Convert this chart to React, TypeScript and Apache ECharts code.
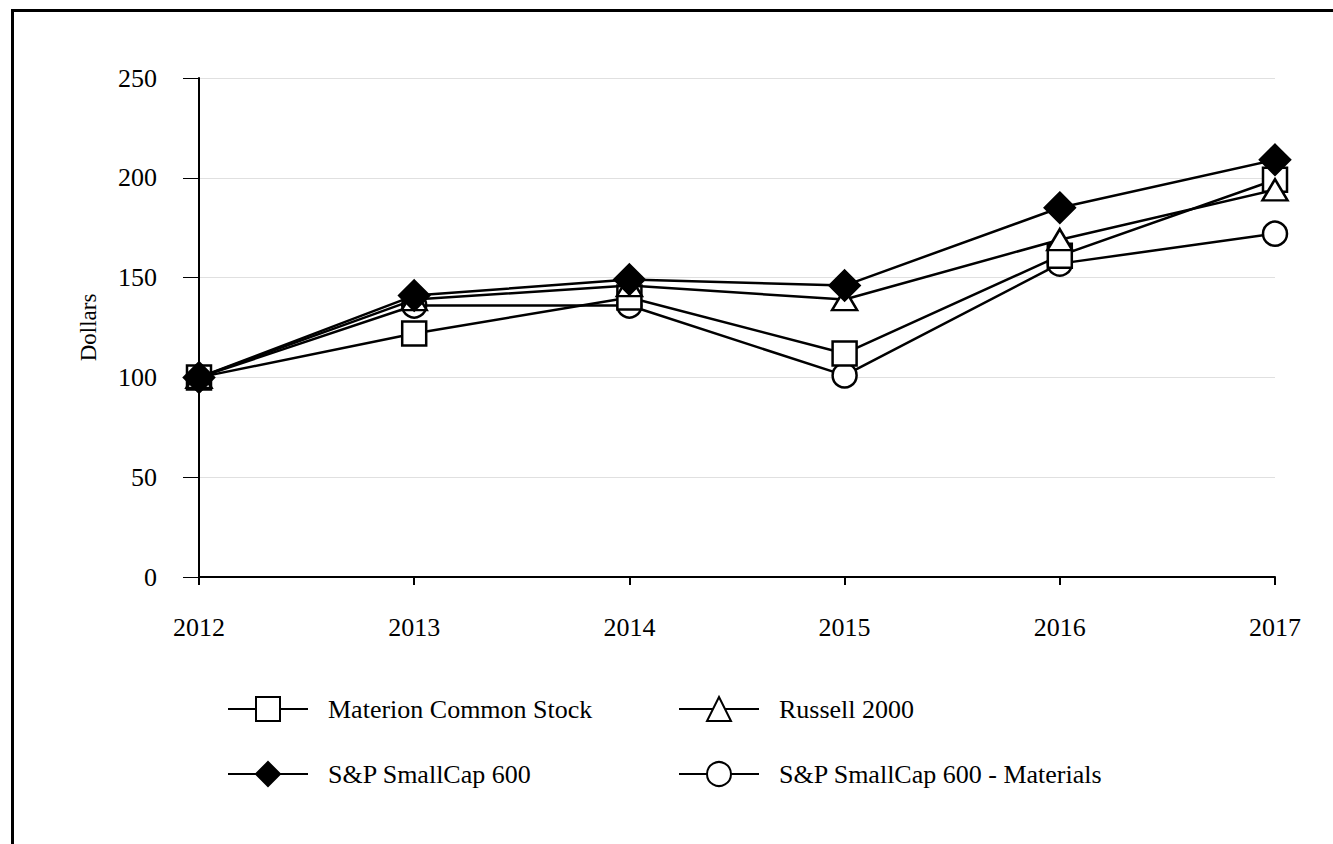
import React, { useEffect, useRef } from "react";
import * as echarts from "echarts";

const years = ["2012", "2013", "2014", "2015", "2016", "2017"];
const materion = [100, 122, 140, 112, 161, 199];
const russell = [100, 139, 146, 139, 169, 194];
const sp600 = [100, 141, 149, 146, 185, 209];
const spMaterials = [100, 136, 136, 101, 157, 172];
const yTicks = [0, 50, 100, 150, 200, 250];

const FONT = "'Liberation Serif', 'DejaVu Serif', serif";

function mkSeries(name: string, data: number[], symbol: string, size: number | number[], fill: string, z: number) {
  return {
    name,
    type: "line",
    data,
    symbol,
    symbolSize: size,
    showAllSymbol: true,
    z,
    lineStyle: { color: "#000", width: 2.5 },
    itemStyle: { color: fill, borderColor: "#000", borderWidth: 2.5 },
    emphasis: { disabled: true },
  };
}

export default function App() {
  const ref = useRef<HTMLDivElement>(null);
  useEffect(() => {
    const chart = echarts.init(ref.current!, null, { renderer: "svg" });
    const labelStyle = { color: "#000", fontFamily: FONT, fontSize: 26 };
    const legendCommon = {
      orient: "vertical",
      top: 691,
      itemWidth: 80,
      itemHeight: 30,
      itemGap: 39,
      textStyle: { ...labelStyle, padding: [0, 0, 0, 15] },
    };
    chart.setOption({
      animation: false,
      backgroundColor: "#fff",
      textStyle: { fontFamily: FONT, color: "#000" },
      grid: { left: 199, right: 58, top: 78, bottom: 267 },
      xAxis: {
        type: "category",
        data: years,
        boundaryGap: false,
        axisLine: { lineStyle: { color: "#000", width: 2 } },
        axisTick: { show: true, length: 8, lineStyle: { color: "#000", width: 2 } },
        axisLabel: { ...labelStyle, margin: 37 },
        splitLine: { show: false },
      },
      yAxis: {
        type: "value",
        min: yTicks[0],
        max: yTicks[yTicks.length - 1],
        interval: 50,
        name: "Dollars",
        nameLocation: "middle",
        nameGap: 99,
        nameTextStyle: { color: "#000", fontFamily: FONT, fontSize: 23 },
        axisLine: { show: true, lineStyle: { color: "#000", width: 2 } },
        axisTick: { show: true, length: 16, lineStyle: { color: "#000", width: 1 } },
        axisLabel: { ...labelStyle, margin: 42 },
        splitLine: { show: true, lineStyle: { color: "#e0e0e0", width: 1 } },
      },
      legend: [
        { ...legendCommon, data: ["Materion Common Stock", "S&P SmallCap 600"], left: 222 },
        { ...legendCommon, data: ["Russell 2000", "S&P SmallCap 600 - Materials"], left: 673 },
      ],
      graphic: [
        {
          type: "rect",
          shape: { x: 12.5, y: 10.5, width: 1500, height: 1000 },
          style: { fill: "none", stroke: "#000", lineWidth: 3 },
          silent: true,
        },
      ],
      series: [
        mkSeries("Materion Common Stock", materion, "rect", 24, "#fff", 3),
        mkSeries("Russell 2000", russell, "triangle", [25, 21], "#fff", 4),
        mkSeries("S&P SmallCap 600", sp600, "diamond", [30, 30], "#000", 5),
        mkSeries("S&P SmallCap 600 - Materials", spMaterials, "circle", 24, "#fff", 2),
      ],
    });
    return () => chart.dispose();
  }, []);
  return (
    <div
      ref={ref}
      style={{ position: "absolute", left: 0, top: 0, width: 1333, height: 844 }}
    />
  );
}
